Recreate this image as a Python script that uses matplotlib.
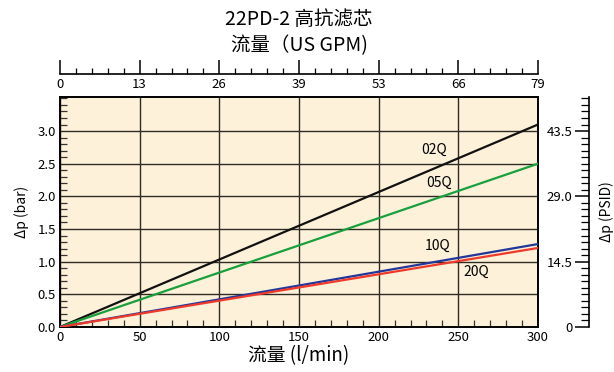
import matplotlib
matplotlib.use("Agg")
import matplotlib.pyplot as plt
from matplotlib.ticker import MultipleLocator, FixedLocator

plt.rcParams['font.family'] = ['Noto Sans CJK SC', 'DejaVu Sans']

# flow in l/min, pressure drop in bar
flow = [0, 300]
dp_02Q = [0, 3.10]
dp_05Q = [0, 2.50]
dp_10Q = [0, 1.27]
dp_20Q = [0, 1.21]

series_names = ['02Q', '05Q', '10Q', '20Q']
series_colors = ['#111111', '#17a03c', '#23379a', '#ee3a2a']
label_pos = [(235, 2.71), (238, 2.20), (237, 1.24), (261, 0.84)]

x_ticks = [0, 50, 100, 150, 200, 250, 300]
gpm_labels = ['0', '13', '26', '39', '53', '66', '79']
y_ticks = [0, 0.5, 1.0, 1.5, 2.0, 2.5, 3.0]
psi_ticks = [0, 14.5, 29.0, 43.5]
psi_labels = ['0', '14.5', '29.0', '43.5']

ymax = 3.52

fig = plt.figure(figsize=(6.14, 3.72), dpi=100)
L, B, W, H = 0.0977, 0.121, 0.7785, 0.618
ax = fig.add_axes([L, B, W, H])
ax.set_facecolor('#fdf1da')

for ys, c in zip([dp_02Q, dp_05Q, dp_10Q, dp_20Q], series_colors):
    ax.plot(flow, ys, color=c, lw=1.6, zorder=3)
for name, (tx, ty) in zip(series_names, label_pos):
    ax.text(tx, ty, name, ha='center', va='center', fontsize=10, zorder=4)

ax.set_xlim(0, 300)
ax.set_ylim(0, ymax)
ax.set_xticks(x_ticks)
ax.set_yticks(y_ticks)
ax.set_yticklabels([f'{v:.1f}' for v in y_ticks])
ax.xaxis.set_minor_locator(MultipleLocator(10))
ax.yaxis.set_minor_locator(MultipleLocator(0.1))
ax.tick_params(which='major', length=0, labelsize=9.5, pad=3)
ax.tick_params(which='minor', direction='in', length=5, width=0.9, color='#333333')
ax.grid(True, which='major', color='#2e2a24', lw=1.0, zorder=1)
for s in ax.spines.values():
    s.set_linewidth(1.4)
ax.set_ylabel('Δp (bar)', fontsize=10, labelpad=6)
ax.set_xlabel('流量 (l/min)', fontsize=13.5, labelpad=1)

# top axis: US GPM
axt = fig.add_axes([L, 0.801, W, 0.0001])
axt.set_xlim(0, 300)
axt.set_yticks([])
for k in ['top', 'left', 'right']:
    axt.spines[k].set_visible(False)
axt.spines['bottom'].set_linewidth(1.2)
axt.set_xticks(x_ticks)
axt.set_xticklabels(gpm_labels)
axt.xaxis.set_minor_locator(MultipleLocator(10))
axt.tick_params(which='major', direction='in', length=10, width=1.1, labelsize=9.5, pad=3)
axt.tick_params(which='minor', direction='in', length=4.5, width=0.9)
axt.patch.set_visible(False)

# right axis: PSID
axr = fig.add_axes([0.959, B, 0.0001, H])
axr.set_ylim(0, ymax * 14.5)
axr.set_xticks([])
for k in ['top', 'bottom', 'right']:
    axr.spines[k].set_visible(False)
axr.spines['left'].set_linewidth(1.2)
axr.yaxis.set_major_locator(FixedLocator(psi_ticks))
axr.set_yticklabels(psi_labels)
axr.yaxis.set_minor_locator(MultipleLocator(1.45))
axr.tick_params(which='major', direction='out', length=10, width=1.1, labelsize=9.5, pad=2)
axr.tick_params(which='minor', direction='out', length=5.5, width=0.9)
axr.patch.set_visible(False)

fig.text(0.988, B + H / 2, 'Δp (PSID)', rotation=90, ha='center', va='center', fontsize=10)
fig.text(0.487, 0.948, '22PD-2 高抗滤芯', ha='center', va='center', fontsize=14)
fig.text(0.487, 0.877, '流量（US GPM)', ha='center', va='center', fontsize=14)

fig.savefig('out.png', dpi=100)
